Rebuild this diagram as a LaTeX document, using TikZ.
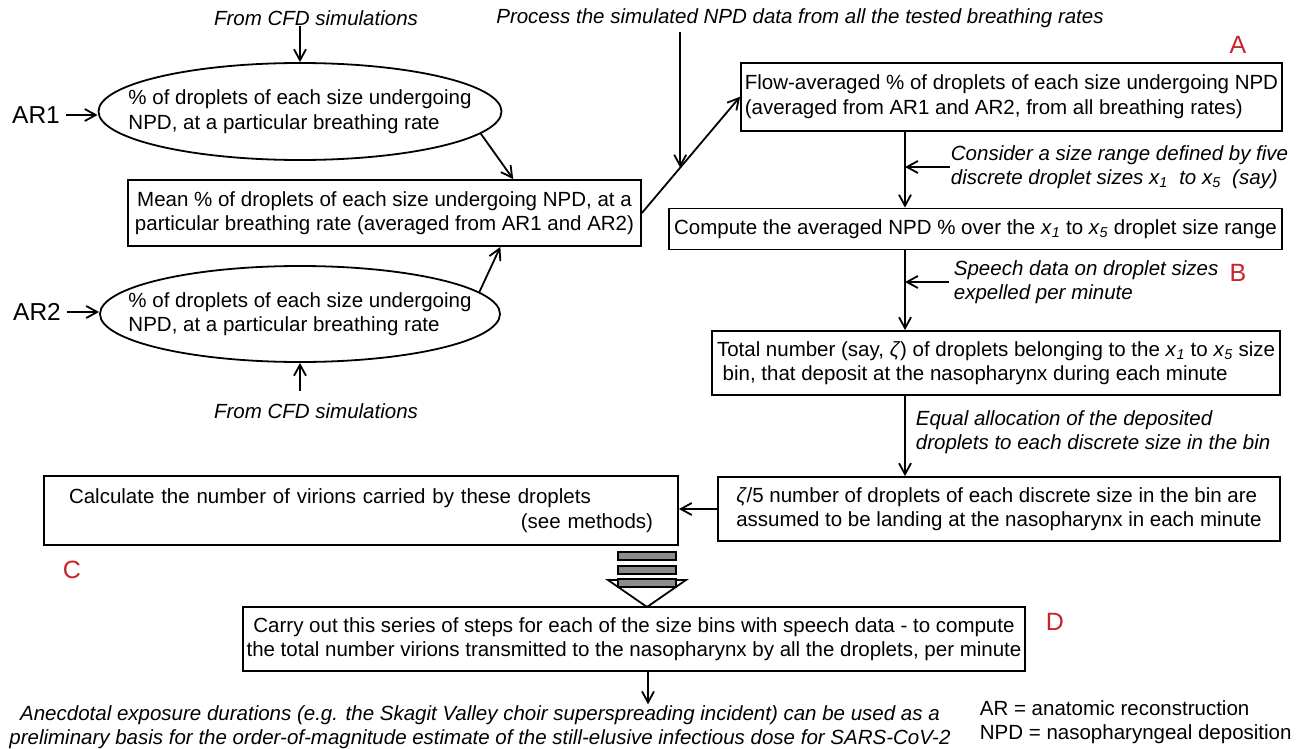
\documentclass[tikz,border=0pt]{standalone}
\usepackage{fontspec}
\setmainfont{Liberation Sans}
\usetikzlibrary{positioning,shapes.geometric,arrows.meta,calc}
\definecolor{tagred}{RGB}{200,35,40}
\definecolor{bargray}{RGB}{140,140,140}
\newcommand{\xs}[1]{\textit{x}\textsubscript{\textit{#1}}}

\begin{document}
\begin{tikzpicture}[x=1pt,y=-1pt,line width=1.8pt,
  >={Straight Barb[length=11pt,width=12pt]},
  txt/.style={font=\fontsize{20.5}{24.5}\selectfont,inner sep=0pt},
  note/.style={txt,font=\fontsize{20.5}{24.5}\selectfont\itshape,align=left},
  box/.style={txt,draw,line width=1.8pt},
  oval/.style={txt,draw,ellipse,line width=1.8pt,align=left,inner xsep=-40pt,inner ysep=-4pt},
  side/.style={inner sep=0pt,font=\fontsize{24.5}{24.5}\selectfont},
  tag/.style={inner sep=0pt,text=tagred,font=\fontsize{25}{25}\selectfont}]

\useasboundingbox (0,0) rectangle (1303,749);

\coordinate (col) at (905,0);
\coordinate (drop) at (648,0);

\node[note] (cfdTop) at (316,18) {From CFD simulations};
\node[note] (process) at (800,18) {Process the simulated NPD data from all the tested breathing rates};

\node[oval,minimum width=403pt,minimum height=97pt] (ellA) at (300,111.5)
  {\% of droplets of each size undergoing\\NPD, at a particular breathing rate};
\node[side] (ar1) at (36,115) {AR1};

\node[box,minimum width=513pt,minimum height=66pt,align=center] (mean) at (384.5,213)
  {Mean \% of droplets of each size undergoing NPD, at a\\particular breathing rate (averaged from AR1 and AR2)};

\node[oval,minimum width=400pt,minimum height=96pt] (ellB) at (300,314)
  {\% of droplets of each size undergoing\\NPD, at a particular breathing rate};
\node[side] (ar2) at (37,312) {AR2};
\node[note] (cfdBot) at (316,411) {From CFD simulations};

\node[box,minimum width=541pt,minimum height=68pt,align=left] (flow) at (1011.5,96.7)
  {Flow-averaged \% of droplets of each size undergoing NPD\\(averaged from AR1 and AR2, from all breathing rates)};
\node[tag] (tagA) at (1238,45) {A};

\node[note,anchor=west] (consider) at (950,167)
  {Consider a size range defined by five\\discrete droplet sizes \xs{1} \ to \xs{5} \ (say)};

\node[box,minimum width=613pt,minimum height=41pt] (compute) at (975.5,229)
  {Compute the averaged NPD \% over the \xs{1} to \xs{5} droplet size range};

\node[note,anchor=west] (speech) at (953,282)
  {Speech data on droplet sizes\\expelled per minute};
\node[tag] (tagB) at (1238,273) {B};

\node[box,minimum width=568pt,minimum height=64pt,align=left] (total) at (996,363)
  {Total number (say, \textit{ζ}) of droplets belonging to the \xs{1} to \xs{5} size\\\ bin, that deposit at the nasopharynx during each minute};

\node[note,anchor=west] (equal) at (915,432)
  {Equal allocation of the deposited\\droplets to each discrete size in the bin};

\node[box,minimum width=562pt,minimum height=64pt,align=left] (fifth) at (999,509)
  {\textit{ζ}/5 number of droplets of each discrete size in the bin are\\assumed to be landing at the nasopharynx in each minute};

\node[box,minimum width=634pt,minimum height=69pt,text width=584pt,align=left] (calc) at (361,510.5)
  {Calculate the number of virions carried by these droplets\\\hspace*{\stretch{1}}(see methods)};
\node[tag] (tagC) at (72,570) {C};

\node[box,minimum width=782pt,minimum height=64pt,align=center] (carry) at (634,639)
  {Carry out this series of steps for each of the size bins with speech data - to compute\\the total number virions transmitted to the nasopharynx by all the droplets, per minute};
\node[tag] (tagD) at (1055,622) {D};

\node[note,align=center] (anecdote) at (480,727)
  {Anecdotal exposure durations (e.g. the Skagit Valley choir superspreading incident) can be used as a\\preliminary basis for the order-of-magnitude estimate of the still-elusive infectious dose for SARS-CoV-2};
\node[txt,align=left,anchor=west] (legend) at (979,722)
  {AR = anatomic reconstruction\\NPD = nasopharyngeal deposition};

\coordinate (merge) at ($(mean.east)!0.39!(flow.west)$);

\draw[->] (cfdTop.south -| ellA.north) -- (ellA.north);
\draw[->] (ar1.east) ++(5,0) -- (ar1.east -| ellA.west);
\draw[->] (ellA.-7.5) -- ($(mean.north west)!0.75!(mean.north east)$);
\draw[->] (ellB.7) -- ($(mean.south west)!0.725!(mean.south east)$);
\draw[->] (ar2.east) ++(5,0) -- (ar2.east -| ellB.west);
\draw[->] (cfdBot.north -| ellB.south) ++(0,-12) -- (ellB.south);
\draw[->] (mean.east) -- (flow.west);
\draw[->] (process.south -| merge) ++(0,4) -- (merge);
\draw[->] (col |- flow.south) -- (col |- compute.north);
\draw[->] (consider.west) -- (consider.west -| col);
\draw[->] (col |- compute.south) -- (col |- total.north);
\draw[->] (speech.west) ++(-4,0) -- (speech.west -| col);
\draw[->] (col |- total.south) -- (col |- fifth.north);
\draw[->] (fifth.west) -- (fifth.west -| calc.east);
\draw[->] (drop |- carry.south) -- (drop |- anecdote.north);

\filldraw[fill=white] (608,580) -- (686,580) -- (647,607) -- cycle;
\foreach \y in {552,566,579}
  \filldraw[fill=bargray,line width=2pt] (618,\y) rectangle (676,\y+8);
\end{tikzpicture}
\end{document}
